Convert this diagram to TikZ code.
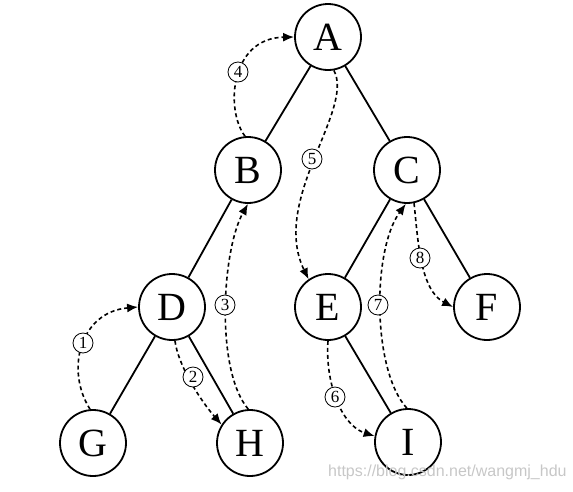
\documentclass[tikz,border=0pt]{standalone}
\usepackage{fontspec}
\setmainfont{Liberation Serif}
\newfontfamily\wmfont{Liberation Sans}
\usetikzlibrary{arrows.meta}
\begin{document}
\begin{tikzpicture}[x=1pt,y=-1pt,
  treenode/.style={circle,draw,line width=1.8pt,minimum size=66pt,inner sep=0pt,font=\fontsize{40}{40}\selectfont},
  edge/.style={line width=1.8pt},
  trav/.style={line width=1.6pt,dash pattern=on 4pt off 3pt,-{Latex[length=11pt,width=9pt]}},
  stepnum/.style={circle,draw,line width=0.8pt,fill=white,inner sep=0pt,minimum size=20pt,font=\fontsize{17}{17}\selectfont}]
\useasboundingbox (0,0) rectangle (573,491);
\node[treenode] (A) at (328,37) {A};
\node[treenode] (B) at (248,170) {B};
\node[treenode] (C) at (407,170) {C};
\node[treenode] (D) at (172,307) {D};
\node[treenode] (E) at (328,307) {E};
\node[treenode] (F) at (487,307) {F};
\node[treenode] (G) at (93,443) {G};
\node[treenode] (H) at (250,443) {H};
\node[treenode] (I) at (408,442) {I};
\draw[edge] (A) -- (B);
\draw[edge] (A) -- (C);
\draw[edge] (B) -- (D);
\draw[edge] (C) -- (E);
\draw[edge] (C) -- (F);
\draw[edge] (D) -- (G);
\draw[edge] (D) -- (H);
\draw[edge] (E) -- (I);
% traversal
\draw[trav] (G.95) .. controls (65,370) and (80,312) .. (D.180);
\draw[trav] (D.-85) .. controls (178,365) and (200,400) .. (H.147);
\draw[trav] (H.93) .. controls (215,370) and (222,250) .. (B.-90);
\draw[trav] (B.95) .. controls (225,110) and (230,38) .. (A.180);
\draw[trav] (A.-80) .. controls (355,110) and (270,200) .. (E.125);
\draw[trav] (E.-90) .. controls (325,380) and (340,425) .. (I.170);
\draw[trav] (I.92) .. controls (372,370) and (372,250) .. (C.-92);
\draw[trav] (C.-78) .. controls (418,240) and (420,290) .. (F.180);
\node[stepnum] (n1) at (83,343) {1};
\node[stepnum] (n2) at (193,377) {2};
\node[stepnum] (n3) at (225,305) {3};
\node[stepnum] (n4) at (238,72) {4};
\node[stepnum] (n5) at (312,159) {5};
\node[stepnum] (n6) at (335,397) {6};
\node[stepnum] (n7) at (378,305) {7};
\node[stepnum] (n8) at (420,258) {8};
\node[font=\wmfont\fontsize{16}{16}\selectfont,text=black!22,anchor=west,inner sep=0pt] (wm) at (328,472) {https://blog.csdn.net/wangmj\_hdu};
\end{tikzpicture}
\end{document}
